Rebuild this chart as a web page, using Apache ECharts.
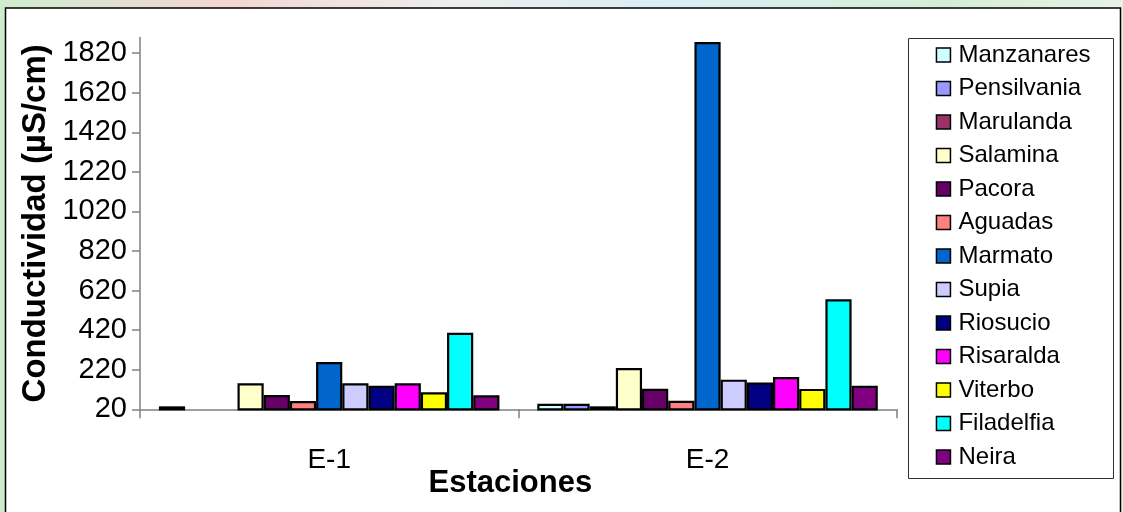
<!DOCTYPE html>
<html>
<head>
<meta charset="utf-8">
<script src="https://cdn.jsdelivr.net/npm/echarts@6/dist/echarts.min.js"></script>
<style>
  html, body { margin: 0; padding: 0; background: #ffffff; }
  #chart { width: 1123px; height: 512px; }
</style>
</head>
<body>
<div id="chart"></div>
<script>
// ---- Data ----
const categories = ['E-1', 'E-2'];
const yTicks = [20, 220, 420, 620, 820, 1020, 1220, 1420, 1620, 1820];

const manzanares  = [35, 48];
const pensilvania = [null, 48];
const marulanda   = [null, 35];
const salamina    = [152, 229];
const pacora      = [92, 124];
const aguadas     = [62, 63];
const marmato     = [259, 1877];
const supia       = [152, 170];
const riosucio    = [139, 155];
const risaralda   = [152, 183];
const viterbo     = [106, 123];
const filadelfia  = [407, 576];
const neira       = [91, 139];

const seriesNames = ['Manzanares', 'Pensilvania', 'Marulanda', 'Salamina', 'Pacora', 'Aguadas',
  'Marmato', 'Supia', 'Riosucio', 'Risaralda', 'Viterbo', 'Filadelfia', 'Neira'];
const seriesData = [manzanares, pensilvania, marulanda, salamina, pacora, aguadas,
  marmato, supia, riosucio, risaralda, viterbo, filadelfia, neira];
const seriesColors = ['#CCFFFF', '#9999FF', '#993366', '#FFFFCC', '#660066', '#FF8080',
  '#0066CC', '#CCCCFF', '#000080', '#FF00FF', '#FFFF00', '#00FFFF', '#800080'];

const sansFont = "'Liberation Sans', Arial, sans-serif";

const chart = echarts.init(document.getElementById('chart'), null, { renderer: 'canvas' });

const option = {
  animation: false,
  backgroundColor: '#ffffff',
  graphic: [
    { type: 'rect', z: -10, silent: true,
      shape: { x: 0, y: 0, width: 1123, height: 512 },
      style: { fill: new echarts.graphic.LinearGradient(0, 0, 1, 0, [
        { offset: 0, color: '#cfeccf' }, { offset: 0.2, color: '#f2d6d2' },
        { offset: 0.4, color: '#eeeeee' }, { offset: 0.6, color: '#d8eef4' },
        { offset: 0.85, color: '#d6eed6' }, { offset: 1, color: '#e6f2e6' }]) } },
    { type: 'rect', z: -9, silent: true,
      shape: { x: 5.5, y: 8, width: 1115, height: 520 },
      style: { fill: '#ffffff', stroke: '#000000', lineWidth: 1.5 } },
    { type: 'rect', z: -8, silent: true,
      shape: { x: 908.5, y: 38.5, width: 205, height: 440 },
      style: { fill: '#ffffff', stroke: '#303030', lineWidth: 1 } }
  ],
  grid: { left: 140, right: 226.3, top: 37.4, bottom: 102.7, containLabel: false },
  legend: {
    orient: 'vertical',
    left: 935.7,
    top: 43,
    padding: 0,
    itemWidth: 14,
    itemHeight: 14,
    itemGap: 9.5,
    icon: 'rect',
    itemStyle: { borderColor: '#000000', borderWidth: 1.5 },
    textStyle: { fontFamily: sansFont, fontSize: 24, color: '#000', lineHeight: 24, padding: [0, 0, 0, 3] },
    data: seriesNames
  },
  xAxis: {
    type: 'category',
    data: categories,
    name: 'Estaciones',
    nameLocation: 'middle',
    nameGap: 59,
    nameMoveOverlap: false,
    nameTextStyle: { fontFamily: sansFont, fontSize: 31, fontWeight: 'bold', color: '#000', padding: [0, 16, 0, 0] },
    axisLine: { lineStyle: { color: '#808080', width: 1.5 } },
    axisTick: { show: true, length: 9, alignWithLabel: false, lineStyle: { color: '#808080', width: 1.5 } },
    axisLabel: { fontFamily: sansFont, fontSize: 28, color: '#000', margin: 37 },
    splitLine: { show: false }
  },
  yAxis: {
    type: 'value',
    min: 20,
    max: 1900,
    name: 'Conductividad (µS/cm)',
    nameLocation: 'middle',
    nameRotate: 90,
    nameGap: 88,
    nameMoveOverlap: false,
    nameTextStyle: { fontFamily: sansFont, fontSize: 33, fontWeight: 'bold', color: '#000' },
    axisLine: { show: true, lineStyle: { color: '#808080', width: 1.5 } },
    axisTick: { show: true, length: 8, inside: false, customValues: yTicks, lineStyle: { color: '#808080', width: 1.5 } },
    axisLabel: { fontFamily: sansFont, fontSize: 29, color: '#000', margin: 13, customValues: yTicks,
      formatter: function (v) { return String(v); } },
    splitLine: { show: false }
  },
  series: seriesNames.map((name, i) => ({
    name: name,
    type: 'bar',
    data: seriesData[i],
    barGap: '0%',
    barCategoryGap: '10%',
    clip: true,
    itemStyle: { color: seriesColors[i], borderColor: '#000000', borderWidth: 2.2 }
  }))
};

chart.setOption(option);
</script>
</body>
</html>
